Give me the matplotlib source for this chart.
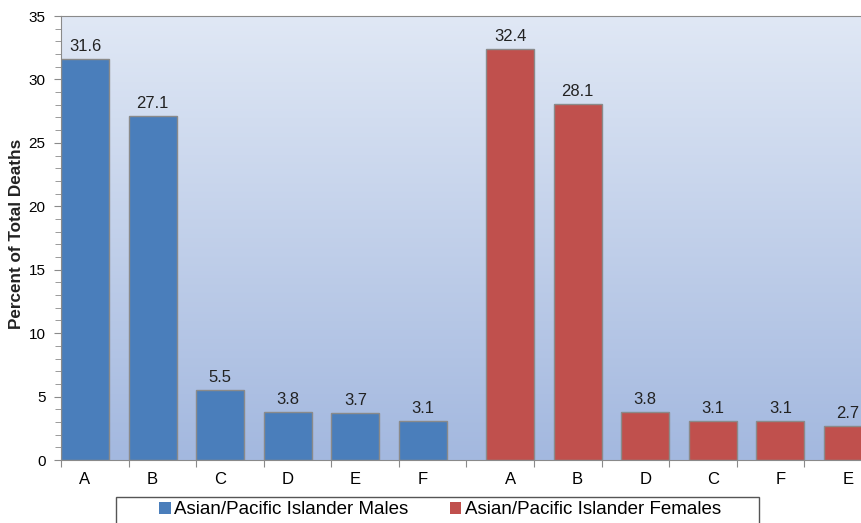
import numpy as np
import matplotlib
matplotlib.use("Agg")
import matplotlib.pyplot as plt
from matplotlib.colors import LinearSegmentedColormap
from matplotlib.patches import Patch, Rectangle

plt.rcParams['font.family'] = ['Liberation Sans', 'DejaVu Sans']

# data
male_labels = ["A", "B", "C", "D", "E", "F"]
male_values = [31.6, 27.1, 5.5, 3.8, 3.7, 3.1]
female_labels = ["A", "B", "D", "C", "F", "E"]
female_values = [32.4, 28.1, 3.8, 3.1, 3.1, 2.7]

BLUE = "#4a7ebb"
RED = "#c0504d"
EDGE = "#8a8a8a"
BAR_W = 0.71
W, H = 862, 523


def main():
    fig = plt.figure(figsize=(W / 100, H / 100), dpi=100)
    ax = fig.add_axes([61 / W, 1 - 460 / H, 811 / W, 444 / H])

    n_male = len(male_values)
    n_slots = n_male + len(female_values)

    # background gradient of the plot area
    cmap = LinearSegmentedColormap.from_list("bg", ["#a3b8df", "#e0e8f5"])
    grad = np.linspace(0, 1, 256).reshape(-1, 1)
    ax.imshow(grad, cmap=cmap, aspect="auto", origin="lower",
              extent=[0, n_slots, 0, 35], zorder=0)

    # male bars sit left in their slot, female bars sit right
    male_x = np.arange(n_male)
    female_x = np.arange(n_male, n_slots) + (1 - BAR_W)
    ax.bar(male_x, male_values, width=BAR_W, align="edge", color=BLUE,
           edgecolor=EDGE, linewidth=1, zorder=2)
    ax.bar(female_x, female_values, width=BAR_W, align="edge", color=RED,
           edgecolor=EDGE, linewidth=1, zorder=2)

    for x, v in zip(list(male_x) + list(female_x), male_values + female_values):
        ax.annotate(f"{v}", (x + BAR_W / 2, v), xytext=(0, 3.5),
                    textcoords="offset points", ha="center", va="bottom",
                    fontsize=12, color="#222222", annotation_clip=False)

    ax.set_xlim(0, n_slots)
    ax.set_ylim(0, 35)

    # x ticks at slot boundaries, labels under the bars
    ax.set_xticks(np.arange(n_slots + 1))
    ax.set_xticklabels([])
    centers = list(male_x + BAR_W / 2) + list(female_x + BAR_W / 2)
    ax.set_xticks(centers, minor=True)
    ax.set_xticklabels(male_labels + female_labels, minor=True, fontsize=12)
    ax.tick_params(axis="x", which="major", length=5, color=EDGE)
    ax.tick_params(axis="x", which="minor", length=0, pad=9)

    ax.set_yticks(np.arange(0, 36, 5))
    ax.set_yticks(np.arange(0, 36, 1), minor=True)
    ax.tick_params(axis="y", which="major", length=5, color=EDGE,
                   labelsize=11, pad=6)
    ax.tick_params(axis="y", which="minor", length=4, color=EDGE)

    for side in ["left", "top", "bottom"]:
        ax.spines[side].set_color(EDGE)
    ax.spines["right"].set_visible(False)

    fig.text(16.5 / W, 1 - 234 / H, "Percent of Total Deaths", rotation=90,
             ha="center", va="center", fontsize=12.3, fontweight="bold",
             color="#222222")

    # legend frame, then the entries inside it
    fig.patches.append(Rectangle((116 / W, -0.1), 643 / W, 0.1 + 1 - 497 / H,
                                 transform=fig.transFigure, fill=False,
                                 edgecolor="#555555", linewidth=1))
    handles = [Patch(facecolor=BLUE, edgecolor="none"),
               Patch(facecolor=RED, edgecolor="none")]
    fig.legend(handles, ["Asian/Pacific Islander Males",
                         "Asian/Pacific Islander Females"],
               loc="center left", bbox_to_anchor=(150 / W, 1 - 510 / H),
               ncol=2, fontsize=13.5, frameon=False, borderpad=0,
               handlelength=0.6, handleheight=0.6, handletextpad=0.2,
               columnspacing=2.2)

    fig.savefig("out.png", dpi=100)


if __name__ == "__main__":
    main()
